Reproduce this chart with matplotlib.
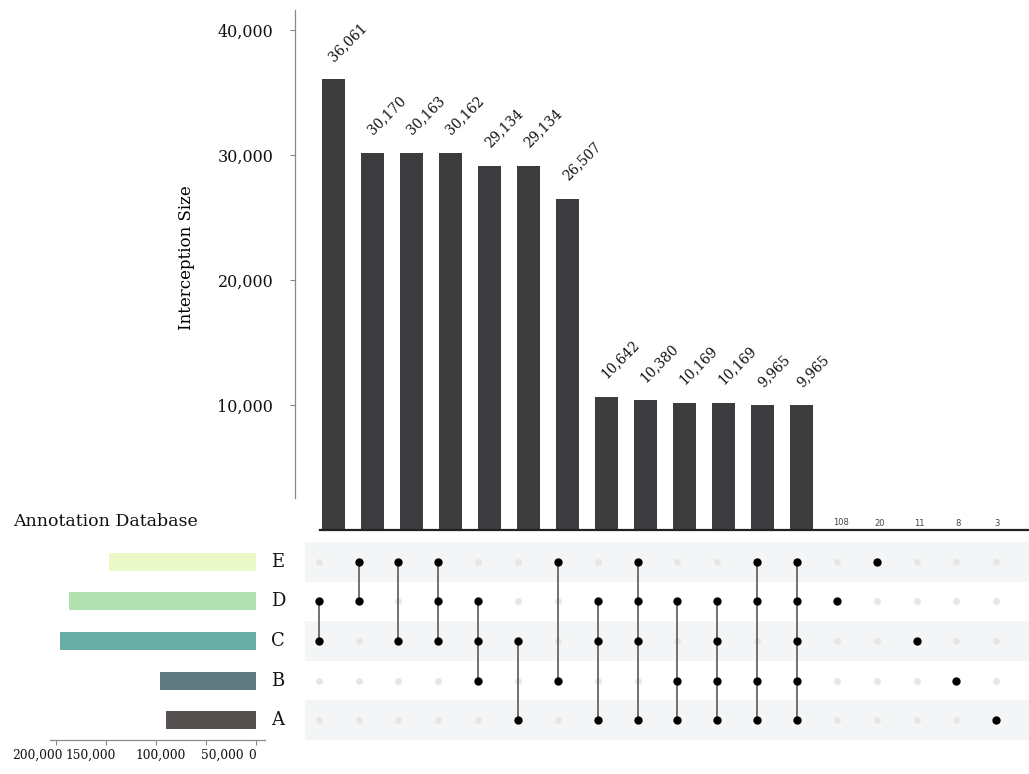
import matplotlib
matplotlib.use("Agg")
import matplotlib.pyplot as plt
import matplotlib.transforms as mtransforms
import numpy as np

# sets, listed bottom to top as they appear in the matrix
sets = ["A", "B", "C", "D", "E"]
set_sizes = [90427, 95917, 195821, 186925, 147332]
set_colors = ["#555151", "#5f7a81", "#6aaca6", "#b1e1b0", "#eaf9c7"]

# intersection sizes, sorted descending
inter_sizes = [36061, 30170, 30163, 30162, 29134, 29134, 26507,
               10642, 10380, 10169, 10169, 9965, 9965,
               108, 20, 11, 8, 3]
# members of each intersection
inter_members = [
    ["D", "C"],
    ["E", "D"],
    ["E", "C"],
    ["E", "D", "C"],
    ["D", "C", "B"],
    ["C", "A"],
    ["E", "B"],
    ["D", "C", "A"],
    ["E", "D", "C", "A"],
    ["D", "B", "A"],
    ["D", "C", "B", "A"],
    ["E", "D", "B", "A"],
    ["E", "D", "C", "B", "A"],
    ["D"],
    ["E"],
    ["C"],
    ["B"],
    ["A"],
]

yticks_main = [10000, 20000, 30000, 40000]
xticks_sets = [200000, 150000, 100000, 50000, 0]

serif = "DejaVu Serif"
W, H = 1029, 774
fig = plt.figure(figsize=(W / 100, H / 100), dpi=100)


def frac(x0, y0, x1, y1):
    # pixel box (top-left origin) -> figure fraction rect
    return [x0 / W, (H - y1) / H, (x1 - x0) / W, (y1 - y0) / H]


ncol = len(inter_sizes)
cols = np.arange(ncol)
xl = (-0.346, 17.82)

# ---- intersection bar chart ----
ax = fig.add_axes(frac(320, 5, 1029, 530))
ax.bar(cols, inter_sizes, width=0.59, color="#3c3c3e", zorder=2)
ax.set_xlim(*xl)
ax.set_ylim(0, 42000)
ax.set_xticks([])
for s in ["top", "right"]:
    ax.spines[s].set_visible(False)
ax.spines["left"].set_position(("outward", 18))
ax.spines["left"].set_bounds(2560, 41600)
ax.spines["left"].set_color("#888888")
ax.spines["left"].set_linewidth(0.9)
ax.spines["bottom"].set_color("#222222")
ax.spines["bottom"].set_linewidth(1.6)
# spine.set_position resets the ticks, so labels go on afterwards
ax.set_yticks(yticks_main)
ax.set_yticklabels([f"{v:,}" for v in yticks_main], fontfamily=serif,
                   fontsize=11.5, color="#111111")
ax.tick_params(axis="y", length=3.6, width=0.8, color="#888888", pad=12)
ax.set_ylabel("Interception Size", fontfamily=serif, fontsize=12)
ax.yaxis.set_label_coords(-0.176, 0.518)

for i, v in enumerate(inter_sizes):
    if v >= 1000:
        ax.text(i + 0.05, v + 1250, f"{v:,}", rotation=45,
                rotation_mode="anchor", ha="left", va="bottom",
                fontfamily=serif, fontsize=9.8, color="#111111")
    else:
        ax.text(i, v + 500, f"{v:,}", ha="center", va="center",
                fontsize=6, color="#444444")

# ---- membership matrix ----
mx = fig.add_axes(frac(305, 542, 1029, 740))
mx.set_xlim(*xl)
mx.set_ylim(-0.5, len(sets) - 0.5)
mx.axis("off")
for r in range(0, len(sets), 2):
    mx.axhspan(r - 0.5, r + 0.5, color="#f4f5f7", lw=0, zorder=0)

gx, gy = np.meshgrid(cols, np.arange(len(sets)))
mx.scatter(gx.ravel(), gy.ravel(), s=24, color="#e6e6e6", lw=0, zorder=1)
for i, members in enumerate(inter_members):
    rows = [sets.index(m) for m in members]
    if len(rows) > 1:
        mx.plot([i, i], [min(rows), max(rows)], color="#666666", lw=1.3,
                zorder=2)
    mx.scatter([i] * len(rows), rows, s=36, color="black", lw=0, zorder=3)

# ---- set size bars ----
sx = fig.add_axes(frac(50, 542, 265, 740))
sx.barh(np.arange(len(sets)), set_sizes, height=0.45, color=set_colors)
sx.set_xlim(206000, -9000)
sx.set_ylim(-0.5, len(sets) - 0.5)
sx.set_yticks([])
for s in ["top", "right", "left"]:
    sx.spines[s].set_visible(False)
sx.spines["bottom"].set_color("#888888")
sx.spines["bottom"].set_linewidth(0.9)
sx.set_xticks(xticks_sets)
sx.set_xticklabels([f"{v:,}" for v in xticks_sets], fontfamily=serif,
                   fontsize=8.8, color="#111111")
sx.tick_params(axis="x", length=3.5, width=0.8, color="#888888", pad=3)
# the labels sit packed side by side rather than under their ticks
label_shift = [-19, -15, 5, 16, -4]
for lab, dx in zip(sx.get_xticklabels(), label_shift):
    lab.set_transform(lab.get_transform() +
                      mtransforms.ScaledTranslation(dx / 100, 0, fig.dpi_scale_trans))
for r, name in enumerate(sets):
    sx.text(-22000, r, name, ha="center", va="center", fontfamily=serif,
            fontsize=13, color="#111111", clip_on=False)

fig.text(13 / W, 1 - 522 / H, "Annotation Database", ha="left", va="center",
         fontfamily=serif, fontsize=12.5, color="#111111")

fig.savefig("out.png", dpi=100)
